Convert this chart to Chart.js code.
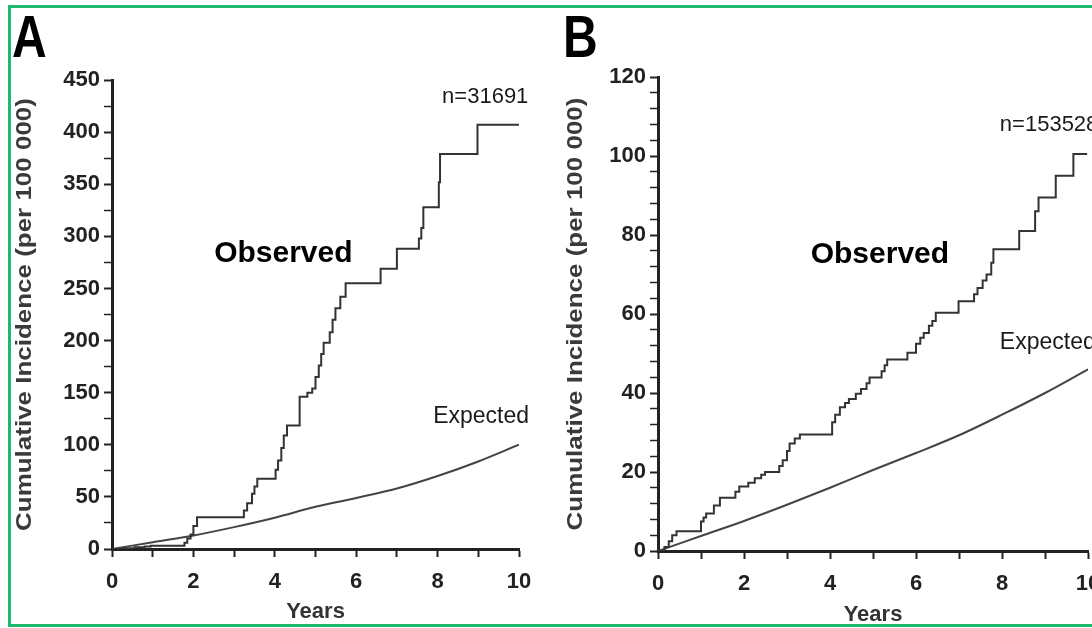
<!DOCTYPE html>
<html>
<head>
<meta charset="utf-8">
<script src="https://cdn.jsdelivr.net/npm/chart.js@4.4.1/dist/chart.umd.min.js"></script>
<style>
  html, body { margin: 0; padding: 0; background: #fff; overflow: hidden; }
  #wrap { position: relative; width: 1092px; height: 628px; overflow: hidden; }
  #panelA { position: absolute; left: 0; top: 0; }
  #panelB { position: absolute; left: 546px; top: 0; }
  #frame { position: absolute; left: 8px; top: 5px; width: 1100px; height: 616px;
           border: 3px solid #1cb96c; pointer-events: none; }
</style>
</head>
<body>
<div id="wrap">
  <canvas id="panelA" width="546" height="628" style="width:546px;height:628px"></canvas>
  <canvas id="panelB" width="600" height="628" style="width:600px;height:628px"></canvas>
  <div id="frame"></div>
</div>
<script>
// years since diagnosis, used for the smooth expected curves
const years = [0, 1, 2, 3, 4, 5, 6, 7, 8, 9, 10];

// panel A: observed step curve (time of each step, level after it)
const obsTimeA = [0, 0.3, 0.55, 0.8, 0.95, 1.78, 1.85, 1.93, 2.0, 2.09, 3.24, 3.32, 3.44, 3.5, 3.57,
  4.02, 4.08, 4.16, 4.22, 4.3, 4.61, 4.8, 4.92, 5.0, 5.08, 5.14, 5.2, 5.35, 5.42, 5.49, 5.61, 5.74,
  6.6, 7.0, 7.54, 7.6, 7.65, 8.03, 8.06, 8.98, 10];
const obsRateA = [0, 0.8, 1.6, 2.5, 3.2, 6, 10, 14, 22, 30.5, 37, 44, 53, 60, 67.5,
  76, 85, 97, 109, 118.5, 146, 150, 154, 165, 176, 187, 198, 208, 220, 231, 242, 255,
  269, 288, 298, 308, 328, 352, 379, 407, 407];
const expRateA = [0, 6.5, 13, 21, 30, 40.5, 49, 58, 70, 84, 100];

// panel B
const obsTimeB = [0, 0.15, 0.25, 0.33, 0.43, 1.0, 1.06, 1.12, 1.3, 1.44, 1.8, 1.89, 2.1, 2.25, 2.4, 2.49,
  2.82, 2.9, 3.0, 3.06, 3.18, 3.3, 4.05, 4.12, 4.23, 4.35, 4.44, 4.6, 4.72, 4.85, 4.92, 5.2, 5.27, 5.33,
  5.8, 6.0, 6.1, 6.18, 6.3, 6.38, 6.46, 6.99, 7.35, 7.43, 7.55, 7.64, 7.75, 7.8, 8.4, 8.77, 8.85,
  9.25, 9.66, 9.98];
const obsRateB = [0, 1, 2.5, 4, 5, 7.5, 8.5, 9.5, 11.5, 13.5, 15, 16.3, 17.3, 18.4, 19.3, 20,
  21.5, 23, 25.3, 27.2, 28.5, 29.5, 32.6, 34.5, 36.4, 37.5, 38.5, 39.8, 41, 42.5, 43.9, 45.5, 47, 48.5,
  50.2, 52.5, 54, 55.2, 57, 58.2, 60.3, 63.2, 65, 66.6, 68.5, 70, 73, 76.4, 81, 86, 89.5,
  95, 100.5, 100.5];
const expRateB = [0, 3.8, 7.6, 11.7, 16, 20.5, 24.8, 29.3, 34.5, 40, 46];

const yTitle = 'Cumulative Incidence (per 100 000)';
const xTitle = 'Years';

const FONT = '"Liberation Sans", Arial, sans-serif';
Chart.defaults.font.family = FONT;
Chart.defaults.color = '#1a1a1a';

function toPoints(xs, ys) {
  return xs.map((t, i) => ({ x: t, y: ys[i] }));
}

// panel letter, rotated y title and in-plot labels
const annotate = {
  id: 'annotate',
  afterDraw(chart, args, o) {
    const { ctx, chartArea, scales: { x, y } } = chart;
    ctx.save();

    ctx.fillStyle = '#000';
    ctx.font = 'bold 60px ' + FONT;
    ctx.textAlign = 'left';
    ctx.textBaseline = 'alphabetic';
    ctx.save();
    ctx.translate(o.letterX, 57);
    ctx.scale(0.8, 1);
    ctx.fillText(o.letter, 0, 0);
    ctx.restore();

    ctx.fillStyle = '#3a3a3a';
    ctx.font = 'bold 22px ' + FONT;
    ctx.textAlign = 'center';
    ctx.textBaseline = 'middle';
    ctx.save();
    ctx.translate(o.titleX, (chartArea.top + chartArea.bottom) / 2);
    ctx.rotate(-Math.PI / 2);
    ctx.scale(1.18, 1);
    ctx.fillText(yTitle, 0, 0);
    ctx.restore();

    o.labels.forEach(l => {
      ctx.fillStyle = l.color || '#1a1a1a';
      ctx.font = l.font;
      ctx.textAlign = l.align || 'center';
      ctx.fillText(l.text, x.getPixelForValue(l.t), y.getPixelForValue(l.v));
    });
    ctx.restore();
  }
};

function makePanel(id, p) {
  const axisColor = '#222';
  return new Chart(document.getElementById(id), {
    type: 'line',
    data: {
      datasets: [{
        label: 'Observed',
        data: toPoints(p.obsTime, p.obsRate),
        borderColor: '#333',
        borderWidth: 2,
        pointRadius: 0,
        stepped: 'before',
        fill: false
      }, {
        label: 'Expected',
        data: toPoints(years, p.expRate),
        borderColor: '#444',
        borderWidth: 2,
        pointRadius: 0,
        cubicInterpolationMode: 'monotone',
        fill: false
      }]
    },
    options: {
      responsive: false,
      animation: false,
      layout: { padding: { left: 0, top: p.top, right: p.right, bottom: 0 } },
      plugins: {
        legend: { display: false },
        tooltip: { enabled: false },
        annotate: p.notes
      },
      scales: {
        x: {
          type: 'linear',
          min: 0,
          max: 10,
          afterFit: s => { s.height = p.xHeight; },
          border: { color: axisColor, width: 3 },
          grid: { drawOnChartArea: false, tickLength: 8, tickColor: axisColor, tickWidth: 2 },
          ticks: {
            stepSize: 1,
            autoSkip: false,
            maxRotation: 0,
            padding: 12,
            color: '#222',
            font: { size: 22, weight: 'bold' },
            callback: v => (v % 2 === 0 ? v : '')
          },
          title: {
            display: true,
            text: xTitle,
            font: { size: 22, weight: 'bold' },
            color: '#333',
            padding: { top: 0, bottom: p.xTitlePad }
          }
        },
        y: {
          min: 0,
          max: p.yMax,
          afterFit: s => { s.width = 112; },
          border: { color: axisColor, width: 3 },
          grid: {
            drawOnChartArea: false,
            tickLength: 8,
            tickColor: axisColor,
            tickWidth: c => (c.tick && c.tick.value % p.yLabelStep === 0 ? 2 : 1.5)
          },
          ticks: {
            stepSize: p.yStep,
            autoSkip: false,
            padding: 4,
            color: '#222',
            font: { size: 22, weight: 'bold' },
            callback: v => (v % p.yLabelStep === 0 ? v : '')
          }
        }
      }
    },
    plugins: [annotate]
  });
}

makePanel('panelA', {
  obsTime: obsTimeA, obsRate: obsRateA, expRate: expRateA,
  yMax: 450, yStep: 25, yLabelStep: 50,
  top: 80, right: 27, xHeight: 79, xTitlePad: 3,
  notes: {
    letter: 'A', letterX: 12, titleX: 25,
    labels: [
      { text: 'Observed', t: 4.21, v: 283, font: 'bold 30px ' + FONT, color: '#000' },
      { text: 'n=31691', t: 9.17, v: 434, font: '22px ' + FONT },
      { text: 'Expected', t: 9.07, v: 127, font: '23px ' + FONT }
    ]
  }
});

makePanel('panelB', {
  obsTime: obsTimeB, obsRate: obsRateB, expRate: expRateB,
  yMax: 120, yStep: 4, yLabelStep: 20,
  top: 77, right: 58, xHeight: 77, xTitlePad: 0,
  notes: {
    letter: 'B', letterX: 17, titleX: 30,
    labels: [
      { text: 'Observed', t: 5.16, v: 75, font: 'bold 30px ' + FONT, color: '#000' },
      { text: 'n=153528', t: 7.95, v: 107.8, font: '22px ' + FONT, align: 'left' },
      { text: 'Expected', t: 7.95, v: 52.8, font: '23px ' + FONT, align: 'left' }
    ]
  }
});
</script>
</body>
</html>
